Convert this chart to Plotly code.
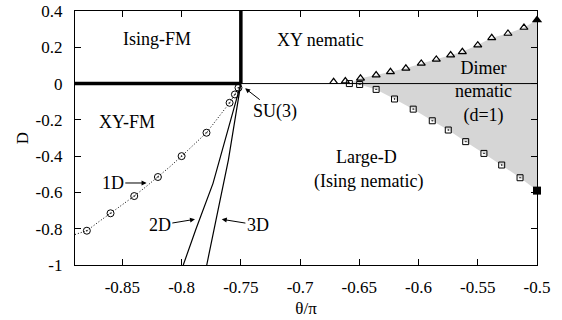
import plotly.graph_objects as go

# ---- data ----
# 1D transition points (open circles) and the dotted guide through them
theta_1d = [-0.880, -0.860, -0.840, -0.820, -0.800, -0.779, -0.7595, -0.755, -0.752]
D_1d = [-0.811, -0.715, -0.620, -0.515, -0.400, -0.271, -0.106, -0.060, -0.023]
theta_1d_line = [-0.890, -0.880, -0.870, -0.860, -0.850, -0.840, -0.830, -0.820, -0.810,
                 -0.800, -0.790, -0.779, -0.770, -0.7595, -0.755, -0.752, -0.750]
D_1d_line = [-0.832, -0.811, -0.762, -0.715, -0.667, -0.620, -0.568, -0.515, -0.459,
             -0.400, -0.338, -0.271, -0.195, -0.106, -0.060, -0.023, 0.0]

# 2D and 3D boundaries (solid lines)
theta_2d = [-0.750, -0.7625, -0.7735, -0.7878, -0.7986]
D_2d = [0.0, -0.30, -0.55, -0.80, -1.0]
theta_3d = [-0.750, -0.7576, -0.7605, -0.771, -0.7788]
D_3d = [0.0, -0.311, -0.420, -0.752, -1.0]

# dimer-phase upper boundary (open triangles)
theta_up = [-0.6717, -0.6618, -0.649, -0.6358, -0.6237, -0.6107, -0.5977, -0.585,
            -0.5729, -0.563, -0.550, -0.5382, -0.5245, -0.511]
D_up = [0.010, 0.014, 0.029, 0.047, 0.065, 0.084, 0.111, 0.133,
        0.157, 0.175, 0.212, 0.252, 0.276, 0.309]
# dimer-phase lower boundary (open squares)
theta_lo = [-0.6584, -0.6497, -0.6358, -0.6203, -0.6045, -0.5884, -0.5749,
            -0.5602, -0.5448, -0.5298, -0.5143]
D_lo = [0.0, -0.005, -0.032, -0.085, -0.141, -0.205, -0.256,
        -0.320, -0.385, -0.449, -0.519]
# exact points at theta/pi = -0.5 (filled symbols)
theta_end = [-0.5]
D_end_up = [0.35]
D_end_lo = [-0.59]

# first-order boundaries (thick) and thin D=0 line
theta_h_thick = [-0.89, -0.75]
D_h_thick = [0.0, 0.0]
theta_v_thick = [-0.75, -0.75]
D_v_thick = [0.0, 0.4]
theta_h_thin = [-0.75, -0.5]
D_h_thin = [0.0, 0.0]

x_ticks = [-0.85, -0.8, -0.75, -0.7, -0.65, -0.6, -0.55, -0.5]
x_ticktext = ["-0.85", "-0.8", "-0.75", "-0.7", "-0.65", "-0.6", "-0.55", "-0.5"]
y_ticks = [0.4, 0.2, 0.0, -0.2, -0.4, -0.6, -0.8, -1.0]
y_ticktext = ["0.4", "0.2", "0", "-0.2", "-0.4", "-0.6", "-0.8", "-1"]

FONT = "Liberation Serif, Times New Roman, Times, serif"

fig = go.Figure()

# grey dimer region
shade_x = [-0.6584] + theta_up[2:] + theta_end + theta_end + theta_lo[::-1][:-1] + [-0.6584]
shade_y = [0.0] + D_up[2:] + D_end_up + D_end_lo + D_lo[::-1][:-1] + [0.0]
fig.add_trace(go.Scatter(x=shade_x, y=shade_y, mode="lines", fill="toself",
                         fillcolor="#d6d6d6", line=dict(width=0), hoverinfo="skip"))

fig.add_trace(go.Scatter(x=theta_h_thin, y=D_h_thin, mode="lines",
                         line=dict(color="black", width=1)))
fig.add_trace(go.Scatter(x=theta_h_thick, y=D_h_thick, mode="lines",
                         line=dict(color="black", width=3.5)))
fig.add_trace(go.Scatter(x=theta_v_thick, y=D_v_thick, mode="lines",
                         line=dict(color="black", width=3.5)))

fig.add_trace(go.Scatter(x=theta_1d_line, y=D_1d_line, mode="lines",
                         line=dict(color="black", width=1, dash="1px,2px")))
fig.add_trace(go.Scatter(x=theta_1d, y=D_1d, mode="markers",
                         marker=dict(symbol="circle-open-dot", size=7,
                                     color="black", line=dict(width=1))))
fig.add_trace(go.Scatter(x=theta_2d, y=D_2d, mode="lines",
                         line=dict(color="black", width=1.2)))
fig.add_trace(go.Scatter(x=theta_3d, y=D_3d, mode="lines",
                         line=dict(color="black", width=1.2)))

fig.add_trace(go.Scatter(x=theta_up, y=D_up, mode="markers",
                         marker=dict(symbol="triangle-up-open", size=7,
                                     color="black", line=dict(width=1.2))))
fig.add_trace(go.Scatter(x=theta_lo, y=D_lo, mode="markers",
                         marker=dict(symbol="square-open-dot", size=6,
                                     color="black", line=dict(width=1))))
fig.add_trace(go.Scatter(x=theta_end, y=D_end_up, mode="markers", cliponaxis=False,
                         marker=dict(symbol="triangle-up", size=9, color="black")))
fig.add_trace(go.Scatter(x=theta_end, y=D_end_lo, mode="markers", cliponaxis=False,
                         marker=dict(symbol="square", size=8, color="black")))

# region labels
labels = [
    ("Ising-FM", -0.8205, 0.2435),
    ("XY nematic", -0.6829, 0.240),
    ("XY-FM", -0.8459, -0.210),
    ("Dimer<br>nematic<br>(d=1)", -0.5454, -0.045),
    ("Large-D", -0.6442, -0.403),
    ("(Ising nematic)", -0.6425, -0.541),
]
for txt, x, y in labels:
    fig.add_annotation(x=x, y=y, text=txt, showarrow=False,
                       font=dict(family=FONT, size=18, color="black"))

# arrows: (text, head x, head y, text x, text y)
arrows = [
    ("SU(3)", -0.7464, -0.026, -0.721, -0.155),
    ("1D", -0.8296, -0.548, -0.8581, -0.548),
    ("2D", -0.7887, -0.748, -0.8184, -0.780),
    ("3D", -0.7661, -0.748, -0.7356, -0.780),
]
for txt, hx, hy, tx, ty in arrows:
    fig.add_annotation(x=hx, y=hy, ax=tx, ay=ty, axref="x", ayref="y",
                       text=txt, showarrow=True, arrowhead=2, arrowsize=1,
                       arrowwidth=1, arrowcolor="black", standoff=0,
                       font=dict(family=FONT, size=18, color="black"))

fig.update_layout(
    width=562, height=320,
    margin=dict(l=75, r=25, t=11, b=55),
    paper_bgcolor="white", plot_bgcolor="white",
    showlegend=False,
    font=dict(family=FONT, size=17, color="black"),
)
fig.update_xaxes(range=[-0.89, -0.5], tickvals=x_ticks, ticktext=x_ticktext,
                 ticks="inside", ticklen=6, tickcolor="black", showgrid=False,
                 zeroline=False, showline=True, linecolor="black", linewidth=1.3,
                 mirror="ticks", automargin=False, ticklabelstandoff=6,
                 title=dict(text="θ/π", font=dict(family=FONT, size=17), standoff=6),
                 tickfont=dict(family=FONT, size=17))
fig.update_yaxes(range=[-1.0, 0.4], tickvals=y_ticks, ticktext=y_ticktext,
                 ticks="inside", ticklen=6, tickcolor="black", showgrid=False,
                 zeroline=False, showline=True, linecolor="black", linewidth=1.3,
                 mirror="ticks", automargin=False, ticklabelstandoff=8,
                 title=dict(text="D", font=dict(family=FONT, size=17), standoff=2),
                 tickfont=dict(family=FONT, size=17))

fig.write_html("out.html", config={"displayModeBar": False},
               post_script="document.body.style.margin='0';document.body.style.overflow='hidden';")
